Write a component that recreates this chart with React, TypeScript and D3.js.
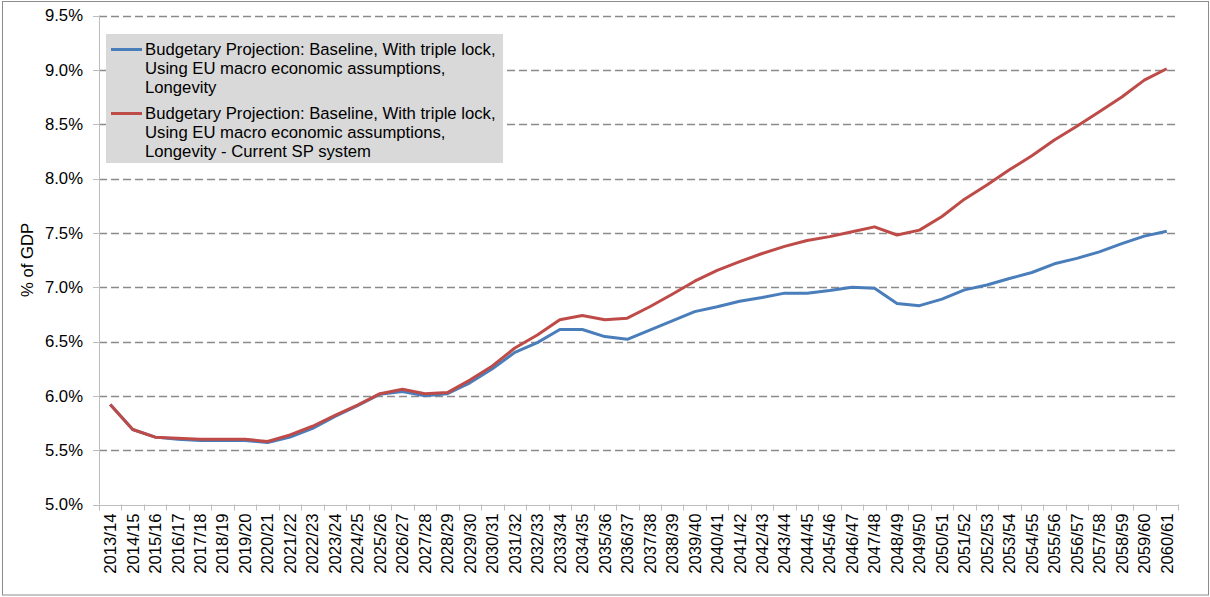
import React from "react";
import { scaleBand, scaleLinear, line } from "d3";

const categories = [
  "2013/14", "2014/15", "2015/16", "2016/17", "2017/18", "2018/19", "2019/20", "2020/21",
  "2021/22", "2022/23", "2023/24", "2024/25", "2025/26", "2026/27", "2027/28", "2028/29",
  "2029/30", "2030/31", "2031/32", "2032/33", "2033/34", "2034/35", "2035/36", "2036/37",
  "2037/38", "2038/39", "2039/40", "2040/41", "2041/42", "2042/43", "2043/44", "2044/45",
  "2045/46", "2046/47", "2047/48", "2048/49", "2049/50", "2050/51", "2051/52", "2052/53",
  "2053/54", "2054/55", "2055/56", "2056/57", "2057/58", "2058/59", "2059/60", "2060/61",
];

// Baseline, with triple lock, EU macro assumptions, longevity
const longevity = [
  5.92, 5.69, 5.62, 5.6, 5.59, 5.59, 5.59, 5.57,
  5.62, 5.7, 5.81, 5.91, 6.015, 6.04, 6.0, 6.02,
  6.12, 6.25, 6.4, 6.49, 6.61, 6.61, 6.545, 6.52,
  6.605, 6.69, 6.775, 6.82, 6.87, 6.905, 6.945, 6.945,
  6.97, 7.0, 6.99, 6.85, 6.83, 6.89, 6.975, 7.02,
  7.08, 7.135, 7.215, 7.265, 7.325, 7.4, 7.47, 7.515,
];

// same, current SP system
const currentSP = [
  5.92, 5.69, 5.62, 5.61, 5.6, 5.6, 5.6, 5.58,
  5.64, 5.72, 5.82, 5.915, 6.02, 6.06, 6.02, 6.03,
  6.145, 6.275, 6.44, 6.56, 6.7, 6.74, 6.7, 6.715,
  6.82, 6.935, 7.055, 7.155, 7.235, 7.31, 7.375, 7.43,
  7.465, 7.51, 7.555, 7.48, 7.525, 7.65, 7.81, 7.94,
  8.08, 8.21, 8.355, 8.48, 8.615, 8.75, 8.905, 9.01,
];

const yTicks = [5.0, 5.5, 6.0, 6.5, 7.0, 7.5, 8.0, 8.5, 9.0, 9.5];

const legendItems = [
  {
    color: "#4a7ebb",
    lines: [
      "Budgetary Projection: Baseline, With triple lock,",
      "Using EU macro economic assumptions,",
      "Longevity",
    ],
  },
  {
    color: "#be4b48",
    lines: [
      "Budgetary Projection: Baseline, With triple lock,",
      "Using EU macro economic assumptions,",
      "Longevity - Current SP system",
    ],
  },
];

const font = "'Liberation Sans', Arial, sans-serif";
const fs = 16.7;

const App = () => {
  const width = 1210;
  const height = 597;
  const left = 99;
  const right = 1178;
  const top = 15.5;
  const bottom = 504.5;

  const x = scaleBand().domain(categories).range([left, right]).padding(0);
  const y = scaleLinear().domain([5, 9.5]).range([bottom, top]);
  const cx = (i) => x(categories[i]) + x.bandwidth() / 2;

  const path = line()
    .x((d, i) => cx(i))
    .y((d) => y(d));

  const series = [
    { values: longevity, color: "#4a7ebb" },
    { values: currentSP, color: "#be4b48" },
  ];

  return (
    <div style={{ position: "absolute", left: 0, top: 0 }}>
      <svg width={width} height={height} style={{ display: "block", fontFamily: font }}>
        <rect x={0} y={0} width={width} height={height} fill="#fff" />
        <rect x={2.5} y={1.5} width={1206} height={593.5} fill="none" stroke="#8c8c8c" />

        {/* gridlines */}
        {yTicks.slice(1).map((t) => (
          <line
            key={t}
            x1={left}
            x2={right}
            y1={Math.round(y(t)) + 0.5}
            y2={Math.round(y(t)) + 0.5}
            stroke="#8a8a8a"
            strokeWidth={1.3}
            strokeDasharray="8,4"
          />
        ))}

        {/* y axis */}
        <line x1={left + 0.5} x2={left + 0.5} y1={top} y2={bottom} stroke="#bdbdbd" />
        {yTicks.map((t) => (
          <g key={t}>
            <line x1={left - 6} x2={left} y1={Math.round(y(t)) + 0.5} y2={Math.round(y(t)) + 0.5} stroke="#bdbdbd" />
            <text x={83} y={y(t)} dy="0.35em" textAnchor="end" fontSize={fs} fill="#000">
              {t.toFixed(1) + "%"}
            </text>
          </g>
        ))}
        <text
          transform={`translate(27,${(top + bottom) / 2}) rotate(-90)`}
          textAnchor="middle"
          dy="0.35em"
          fontSize={fs}
        >
          % of GDP
        </text>

        {/* x axis */}
        <line x1={left} x2={right} y1={Math.round(bottom) + 0.5} y2={Math.round(bottom) + 0.5} stroke="#bdbdbd" />
        {categories.map((c) => (
          <line
            key={"t" + c}
            x1={Math.round(x(c)) + 0.5}
            x2={Math.round(x(c)) + 0.5}
            y1={bottom}
            y2={bottom + 6}
            stroke="#bdbdbd"
          />
        ))}
        <line x1={right + 0.5} x2={right + 0.5} y1={bottom} y2={bottom + 6} stroke="#bdbdbd" />
        {categories.map((c, i) => (
          <text
            key={c}
            transform={`translate(${cx(i)},${bottom + 9}) rotate(-90)`}
            textAnchor="end"
            dy="0.35em"
            fontSize={fs}
          >
            {c}
          </text>
        ))}

        {/* series */}
        {series.map((s) => (
          <path
            key={s.color}
            d={path(s.values)}
            fill="none"
            stroke={s.color}
            strokeWidth={3}
            strokeLinejoin="round"
          />
        ))}

        {/* legend */}
        <rect x={106} y={34} width={397} height={129} fill="#d9d9d9" />
        {legendItems.map((item, k) => {
          const y0 = 49.5 + k * 64;
          return (
            <g key={k}>
              <line x1={111} x2={142} y1={y0} y2={y0} stroke={item.color} strokeWidth={3} />
              {item.lines.map((ln, j) => (
                <text key={j} x={145} y={y0 + j * 19} dy="0.35em" fontSize={fs} fill="#000">
                  {ln}
                </text>
              ))}
            </g>
          );
        })}
      </svg>
    </div>
  );
};

export default App;
